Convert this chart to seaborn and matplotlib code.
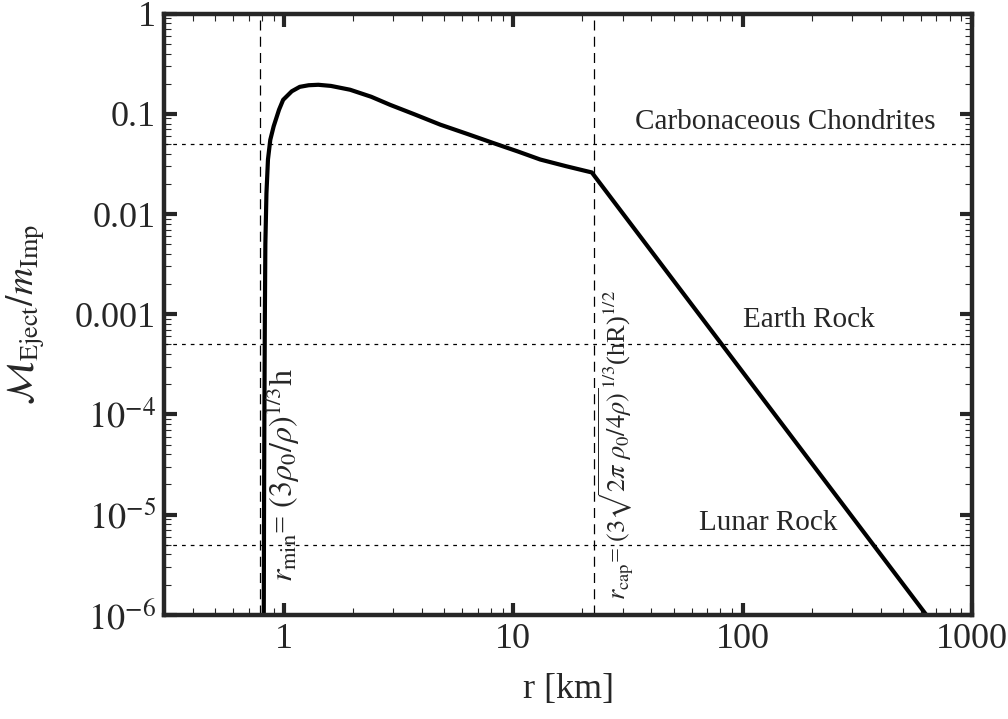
import numpy as np
import pandas as pd
import seaborn as sns
import matplotlib.pyplot as plt
from matplotlib.ticker import LogLocator, NullFormatter

# ejected mass fraction
r_km = [0.815, 0.817, 0.82, 0.824, 0.828, 0.837, 0.85, 0.87, 0.9, 0.95, 0.99,
        1.08, 1.17, 1.28, 1.41, 1.6, 1.94, 2.4, 2.9, 3.7, 4.8, 6.3, 8.2,
        10.5, 13.1, 17.0, 22.0, 633.0]
m_eject = [1e-6, 1e-5, 1e-4, 1e-3, 0.005, 0.016, 0.035, 0.055, 0.075, 0.11,
           0.138, 0.168, 0.186, 0.193, 0.195, 0.19, 0.174, 0.148, 0.123,
           0.099, 0.078, 0.063, 0.051, 0.042, 0.035, 0.030, 0.026, 1e-6]

r_min = 0.785
r_cap = 22.4
rock_names = ["Carbonaceous Chondrites", "Earth Rock", "Lunar Rock"]
rock_levels = [0.05, 5e-4, 5e-6]

yticks = [1e-6, 1e-5, 1e-4, 1e-3, 1e-2, 1e-1, 1]
ytick_labels = [r"$10^{-6}$", r"$10^{-5}$", r"$10^{-4}$", "0.001", "0.01", "0.1", "1"]
xticks = [1, 10, 100, 1000]
xtick_labels = ["1", "10", "100", "1000"]

sns.set_style("ticks")
plt.rcParams["font.family"] = ["Liberation Serif", "DejaVu Serif"]
plt.rcParams["mathtext.fontset"] = "stix"

df = pd.DataFrame({"r": r_km, "m": m_eject})

fig = plt.figure(figsize=(10.08, 7.19), dpi=100)
ax = fig.add_axes([0.163, 0.145, 0.801, 0.836])

sns.lineplot(data=df, x="r", y="m", sort=False, estimator=None,
             color="black", linewidth=3.0, ax=ax)
ax.set_xscale("log")
ax.set_yscale("log")
ax.set_xlim(0.3, 1000)
ax.set_ylim(1e-6, 1)

# reference lines
for x in [r_min, r_cap]:
    ax.axvline(x, color="black", linewidth=0.9, linestyle=(0, (8, 5)))
for lvl in rock_levels:
    ax.axhline(lvl, color="black", linewidth=0.9, linestyle=(0, (3, 4)))

# rock labels
ax.text(154, 0.083, rock_names[0], ha="center", va="center", fontsize=21)
ax.text(194, 8.7e-4, rock_names[1], ha="center", va="center", fontsize=21)
ax.text(130, 8.3e-6, rock_names[2], ha="center", va="center", fontsize=21)

# rotated formulas
ax.text(0.99, 2.1e-6, r"$r_{\rm min}$= $(3\rho_0/\rho)^{1/3}$h",
        rotation=90, ha="center", va="bottom", fontsize=23)
ax.text(27.8, 1.4e-6,
        r"$r_{\rm cap}$= $(3\sqrt{2\pi\ \rho_0/4\rho)}^{1/3}$(hR)$^{1/2}$",
        rotation=90, ha="center", va="bottom", fontsize=19)

ax.set_xticks(xticks)
ax.set_xticklabels(xtick_labels)
ax.set_yticks(yticks)
ax.set_yticklabels(ytick_labels)
ax.xaxis.set_minor_locator(LogLocator(base=10, subs=np.arange(2, 10), numticks=20))
ax.yaxis.set_minor_locator(LogLocator(base=10, subs=np.arange(2, 10), numticks=20))
ax.xaxis.set_minor_formatter(NullFormatter())
ax.yaxis.set_minor_formatter(NullFormatter())

ax.tick_params(which="major", direction="in", length=9, width=3,
               top=True, right=True, labelsize=26, pad=6)
ax.tick_params(which="minor", direction="in", length=5, width=0.8,
               top=True, right=True)
for sp in ax.spines.values():
    sp.set_linewidth(3.2)
    sp.set_visible(True)

ax.set_xlabel("r [km]", fontsize=26, labelpad=12)
ax.set_ylabel(r"$\mathcal{M}_{\rm Eject}/m_{\rm Imp}$", fontsize=27, labelpad=20)

fig.savefig("out.png", dpi=100)
